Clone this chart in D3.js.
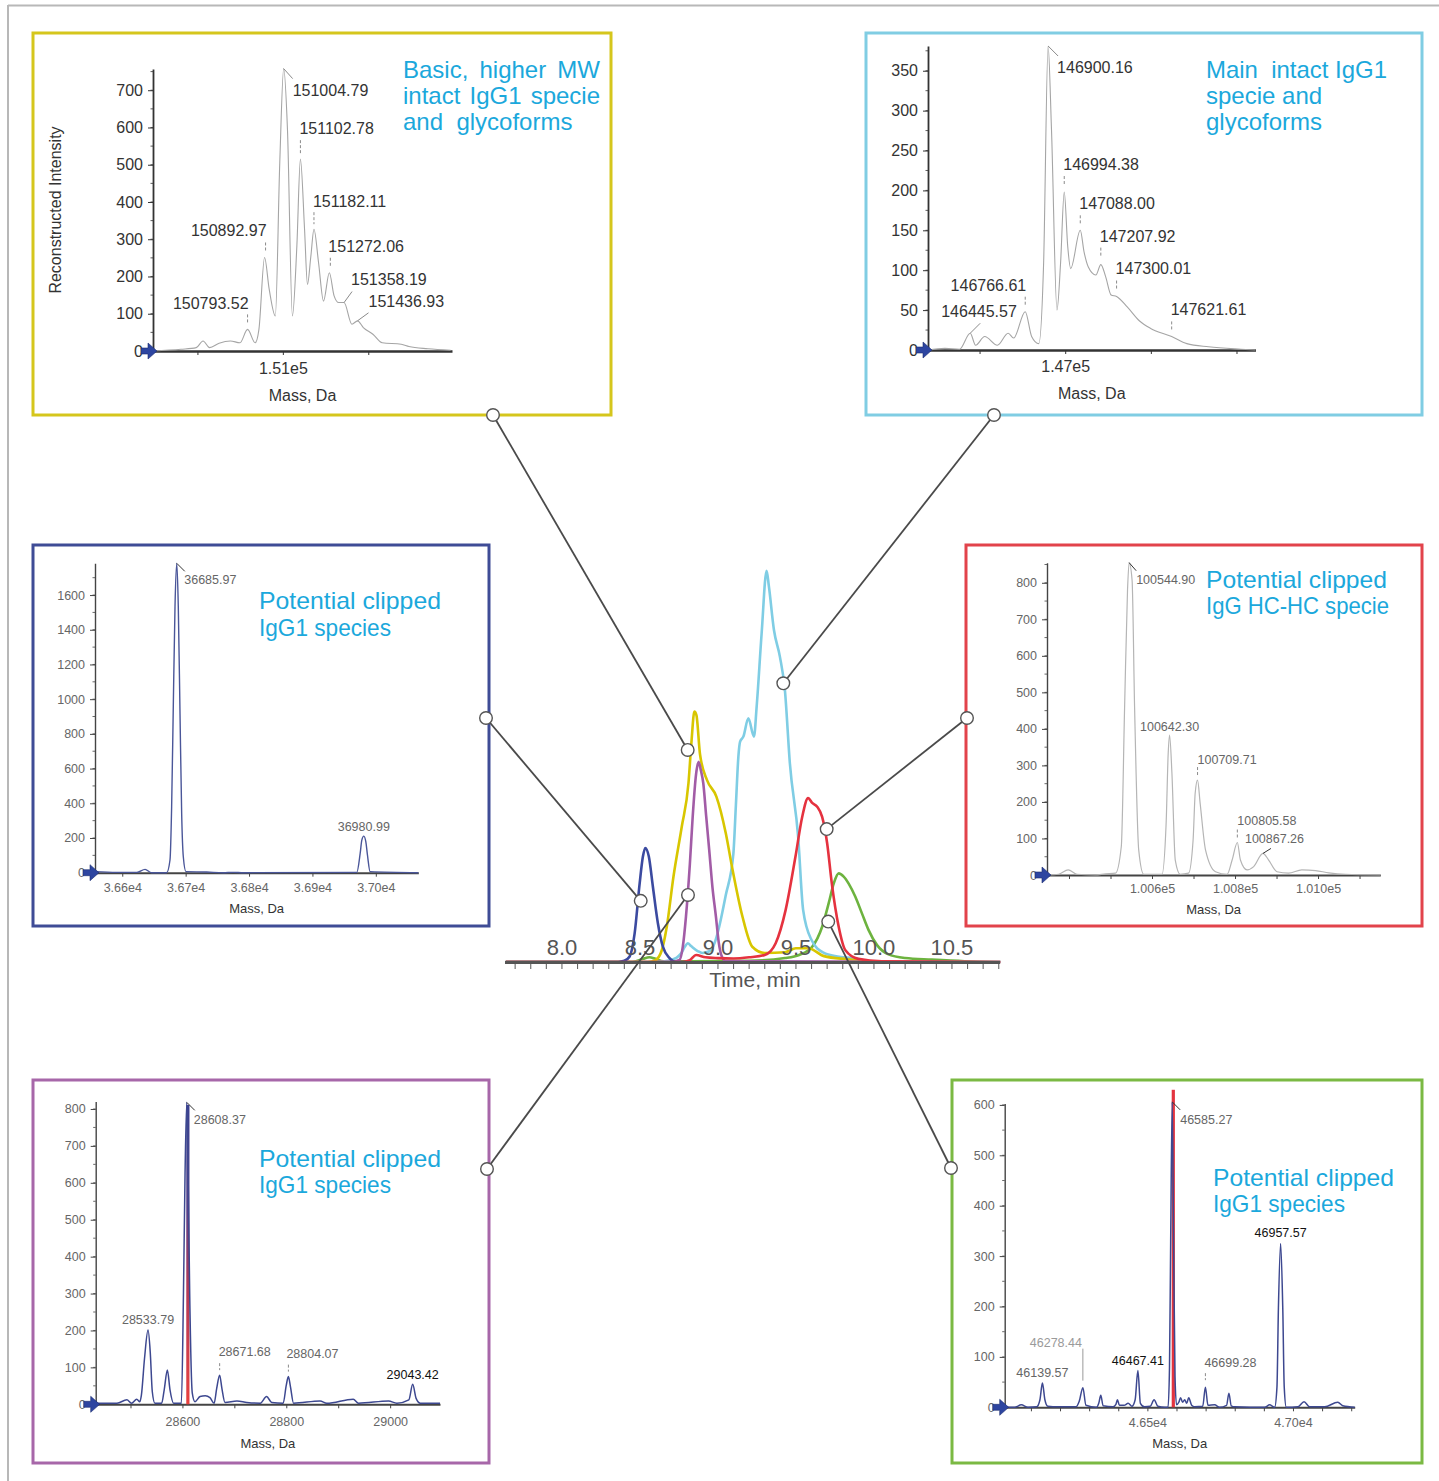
<!DOCTYPE html>
<html><head><meta charset="utf-8">
<script src="https://cdn.jsdelivr.net/npm/d3@7"></script>
<style>
html,body{margin:0;padding:0;background:#fff;}
svg{display:block;}
</style></head><body>
<svg id="c" width="1439" height="1481"></svg>
<script>
// ---------------- DATA ----------------
// Central chromatogram (time, min / relative intensity)
const timeTicks = [8.0, 8.5, 9.0, 9.5, 10.0, 10.5];
const blueTime = [7.64, 8.36, 8.40, 8.434, 8.466, 8.498, 8.519, 8.534, 8.557, 8.583, 8.615, 8.647, 8.69, 8.73, 8.80];
const blueInt  = [0, 0, 0.3, 1.4, 7.3, 20, 26.9, 29.1, 26.9, 19.2, 9.9, 3.9, 1.0, 0, 0];
const yellowTime = [7.64, 8.55, 8.60, 8.64, 8.672, 8.715, 8.768, 8.811, 8.83, 8.849, 8.862, 8.885, 8.93, 8.99, 9.05, 9.09, 9.157, 9.22, 9.30, 9.43, 9.50, 9.58, 9.68, 9.83, 9.95, 10.1];
const yellowInt  = [0, 0, 0.5, 3, 9, 21.8, 34.5, 45.6, 56, 63.9, 63, 53, 46.4, 42.2, 32.9, 24.3, 11.6, 3.9, 2.3, 2.5, 3.5, 3.5, 1.5, 0.7, 0.2, 0];
const purpleTime = [7.64, 8.70, 8.753, 8.775, 8.795, 8.82, 8.838, 8.86, 8.876, 8.89, 8.906, 8.925, 8.944, 8.965, 8.987, 9.005, 9.025, 9.05, 10.81];
const purpleInt  = [0, 0, 0.5, 4, 11.6, 25, 37, 48, 51.1, 49, 45.6, 37, 28.6, 19, 11.6, 5, 1.4, 0.2, 0];
const cyanTime = [7.64, 8.60, 8.70, 8.76, 8.79, 8.806, 8.83, 8.87, 8.90, 8.95, 8.98, 9.008, 9.05, 9.099, 9.115, 9.131, 9.142, 9.163, 9.195, 9.231, 9.248, 9.28, 9.312, 9.326, 9.359, 9.397, 9.429, 9.461, 9.514, 9.546, 9.60, 9.676, 9.766, 9.866, 9.956, 10.05, 10.81];
const cyanInt  = [0, 0, 0.5, 2, 4, 4.8, 4, 2.8, 2.3, 2.8, 5, 9, 17, 27.7, 40, 52.4, 56.2, 57.5, 62.2, 57.5, 65.1, 83.8, 99.8, 96, 84.7, 77.9, 69.4, 50.7, 32, 13.3, 5.6, 2.4, 1.4, 1.0, 0.3, 0, 0];
const redTime = [7.64, 8.77, 8.82, 8.86, 8.92, 9.0, 9.1, 9.2, 9.30, 9.37, 9.434, 9.497, 9.54, 9.578, 9.604, 9.636, 9.668, 9.70, 9.73, 9.774, 9.817, 9.9, 10.05, 10.81];
const redInt  = [0, 0, 0.5, 1.8, 1.2, 1.0, 0.9, 1.2, 1.8, 4.8, 13.3, 26.9, 37, 41.8, 40.6, 39.6, 37, 30.3, 20, 9, 3, 0.8, 0.2, 0];
const greenTime = [7.64, 8.45, 8.52, 8.56, 8.60, 8.65, 9.2, 9.43, 9.52, 9.604, 9.668, 9.71, 9.742, 9.774, 9.806, 9.838, 9.88, 9.923, 9.965, 10.02, 10.09, 10.2, 10.37, 10.58, 10.81];
const greenInt  = [0, 0, 0.8, 1.2, 0.8, 0.2, 0.3, 1.0, 1.8, 3.9, 9, 15, 20, 22.6, 21.8, 20, 16.7, 12.4, 8.2, 4.3, 2, 1, 0.6, 0.2, 0];
// connector anchors on the chromatogram (panel 1..6)
const anchorTime = [8.806, 9.419, 8.505, 9.697, 8.808, 9.707];
const anchorInt  = [54.1, 71.1, 15.6, 33.9, 17.1, 10.3];

// Panel 1 : basic, higher MW intact IgG1
const p1Mass = [150240, 150404, 150493, 150533, 150571, 150627, 150693, 150749, 150793.52, 150838, 150860, 150892.97, 150920, 150956, 150982, 151004.79, 151027, 151056, 151082, 151102.78, 151127, 151144, 151164, 151182.11, 151209, 151238, 151272.06, 151300, 151327, 151358.19, 151404, 151436.93, 151471, 151527, 151582, 151693, 151738, 151849, 151982];
const p1Int  = [0, 4.5, 9, 27, 9, 21, 27, 22, 58, 22, 58, 251, 166, 94, 506, 758, 595, 94, 282, 515, 327, 179, 255, 327, 237, 134, 210, 148, 130, 130, 72, 81, 63, 45, 22, 18, 12, 6, 2];
const p1YTicks = [0, 100, 200, 300, 400, 500, 600, 700];
const p1XTicks = [150500, 151000, 151500];
const p1XTickLabels = ['', '1.51e5', ''];
const p1LabelText = ['151004.79', '151102.78', '151182.11', '151272.06', '151358.19', '151436.93', '150892.97', '150793.52'];
const p1LabelMass = [151004.79, 151102.78, 151182.11, 151272.06, 151358.19, 151436.93, 150892.97, 150793.52];
const p1LabelInt  = [758, 515, 327, 210, 130, 81, 251, 58];
const p1Note = ['Basic, higher MW', 'intact IgG1 specie', 'and  glycoforms'];

// Panel 2 : main intact IgG1
const p2Mass = [146199, 146298, 146383, 146445.57, 146477, 146530, 146604, 146667, 146699, 146766.61, 146804, 146846, 146874, 146900.16, 146920, 146952, 146973, 146994.38, 147015, 147032, 147088.00, 147110, 147135, 147179, 147207.92, 147236, 147268, 147300.01, 147362, 147436, 147499, 147621.61, 147710, 147837, 148026, 148111];
const p2Int  = [0, 2, 1, 21, 6, 17, 6, 21, 15, 48, 17, 8, 109, 381, 276, 50, 109, 198, 129, 102, 150, 123, 104, 94, 107, 92, 69, 67, 54, 36, 27, 17, 8, 4, 1, 0];
const p2YTicks = [0, 50, 100, 150, 200, 250, 300, 350];
const p2XTicks = [146500, 147000, 147500, 148000];
const p2XTickLabels = ['', '1.47e5', '', ''];
const p2LabelText = ['146900.16', '146994.38', '147088.00', '147207.92', '147300.01', '146766.61', '146445.57', '147621.61'];
const p2LabelMass = [146900.16, 146994.38, 147088.00, 147207.92, 147300.01, 146766.61, 146445.57, 147621.61];
const p2LabelInt  = [381, 198, 150, 107, 67, 48, 21, 17];
const p2Note = ['Main  intact IgG1', 'specie and', 'glycoforms'];

// Panel 3 : potential clipped IgG1 species (blue)
const p3Mass = [36557, 36591, 36623, 36636, 36646, 36670, 36675.3, 36677.9, 36680.5, 36683.2, 36685.97, 36688.4, 36691.1, 36693.7, 36696.3, 36700.5, 36733, 36759, 36775, 36791, 36970, 36975.3, 36977.9, 36980.99, 36984.2, 36986.8, 36991, 37067];
const p3Int  = [6, 2, 2, 19, 0, 0, 73, 380, 957, 1533, 1783, 1533, 918, 342, 92, 6, 4, 0, 2, 0, 2, 111, 188, 211, 179, 102, 6, 0];
const p3YTicks = [0, 200, 400, 600, 800, 1000, 1200, 1400, 1600];
const p3XTicks = [36600, 36700, 36800, 36900, 37000];
const p3XTickLabels = ['3.66e4', '3.67e4', '3.68e4', '3.69e4', '3.70e4'];
const p3LabelText = ['36685.97', '36980.99'];
const p3LabelMass = [36685.97, 36980.99];
const p3LabelInt  = [1783, 211];
const p3Note = ['Potential clipped', 'IgG1 species'];

// Panel 4 : potential clipped IgG HC-HC specie (red)
const p4Mass = [100347, 100375, 100398, 100419, 100463, 100488, 100512, 100526, 100534, 100541, 100544.90, 100552, 100558, 100568, 100580, 100624, 100634, 100639, 100642.30, 100648, 100656, 100668, 100688, 100699, 100704, 100709.71, 100716, 100729, 100753, 100781, 100793, 100805.58, 100813, 100829, 100845, 100867.26, 100881, 100901, 100929, 100961, 100994, 101026, 101066, 101150];
const p4Int  = [0, 2, 14, 2, 0, 3, 5, 78, 461, 780, 855, 807, 461, 68, 2, 2, 141, 333, 383, 278, 41, 2, 5, 96, 224, 260, 196, 68, 9, 2, 41, 89, 41, 14, 23, 59, 41, 9, 5, 14, 12, 6, 2, 0];
const p4YTicks = [0, 100, 200, 300, 400, 500, 600, 700, 800];
const p4XTicks = [100400, 100500, 100600, 100700, 100800, 100900, 101000, 101100];
const p4XTickLabels = ['', '', '1.006e5', '', '1.008e5', '', '1.010e5', ''];
const p4LabelText = ['100544.90', '100642.30', '100709.71', '100805.58', '100867.26'];
const p4LabelMass = [100544.90, 100642.30, 100709.71, 100805.58, 100867.26];
const p4LabelInt  = [855, 383, 260, 89, 59];
const p4Note = ['Potential clipped', 'IgG HC-HC specie'];

// Panel 5 : potential clipped IgG1 species (purple)
const p5Mass = [28433, 28474, 28493, 28502, 28512, 28518, 28521, 28527, 28533.79, 28538, 28542, 28547, 28560, 28565, 28571, 28576, 28583, 28598, 28602, 28605, 28608.37, 28611, 28614, 28619, 28624, 28634, 28644, 28653, 28661, 28666, 28671.68, 28676, 28682, 28705, 28724, 28750, 28762, 28772, 28794, 28800, 28804.07, 28808, 28814, 28865, 28878, 28929, 28939, 28997, 29013, 29036, 29043.42, 29050, 29058, 29096];
const p5Int  = [3, 3, 12, 3, 14, 7, 25, 124, 201, 142, 34, 3, 3, 40, 93, 40, 3, 3, 300, 620, 818, 620, 300, 30, 7, 21, 23, 18, 3, 43, 79, 43, 5, 9, 5, 3, 21, 5, 3, 52, 75, 48, 3, 9, 3, 14, 3, 9, 3, 12, 54, 16, 3, 3];
const p5YTicks = [0, 100, 200, 300, 400, 500, 600, 700, 800];
const p5XTicks = [28500, 28600, 28700, 28800, 28900, 29000];
const p5XTickLabels = ['', '28600', '', '28800', '', '29000'];
const p5LabelText = ['28608.37', '28533.79', '28671.68', '28804.07', '29043.42'];
const p5LabelMass = [28608.37, 28533.79, 28671.68, 28804.07, 29043.42];
const p5LabelInt  = [818, 201, 79, 75, 54];
const p5BarMass = 28608.37, p5BarInt = 811;
const p5Note = ['Potential clipped', 'IgG1 species'];

// Panel 6 : potential clipped IgG1 species (green)
const p6Mass = [46010, 46044, 46067, 46090, 46120, 46131, 46139.57, 46148, 46158, 46193, 46255, 46266, 46278.44, 46289, 46325, 46333, 46340, 46348, 46382, 46392, 46397, 46404, 46420, 46434, 46447, 46458, 46467.41, 46476, 46490, 46510, 46523, 46536, 46560, 46571, 46576, 46580, 46585.27, 46590, 46595, 46600, 46608, 46614, 46621, 46628, 46635, 46642, 46652, 46662, 46690, 46699.28, 46708, 46731, 46748, 46772, 46780, 46788, 46800, 46903, 46920, 46937, 46945, 46950, 46957.57, 46965, 46970, 46977, 47017, 47038, 47057, 47109, 47154, 47171, 47212];
const p6Int  = [0, 0, 5, 0, 1, 15, 48, 15, 2, 1, 1, 12, 39, 4, 0, 8, 24, 3, 1, 6, 15, 4, 4, 8, 2, 15, 73, 8, 1, 2, 15, 2, 0, 0, 80, 329, 606, 329, 60, 5, 10, 19, 10, 15, 8, 19, 4, 1, 2, 40, 4, 5, 0, 4, 28, 3, 1, 0, 5, 0, 40, 196, 325, 196, 40, 0, 1, 11, 1, 1, 10, 3, 0];
const p6YTicks = [0, 100, 200, 300, 400, 500, 600];
const p6XTicks = [46100, 46200, 46300, 46400, 46500, 46600, 46700, 46800, 46900, 47000, 47100, 47200];
const p6XTickLabels = ['', '', '', '', '4.65e4', '', '', '', '', '4.70e4', '', ''];
const p6LabelText = ['46585.27', '46957.57', '46139.57', '46278.44', '46467.41', '46699.28'];
const p6LabelMass = [46585.27, 46957.57, 46139.57, 46278.44, 46467.41, 46699.28];
const p6LabelInt  = [606, 325, 48, 39, 73, 40];
const p6BarMass = 46585.27, p6BarInt = 630;
const p6Note = ['Potential clipped', 'IgG1 species'];

// ---------------- LAYOUT (positions / styles) ----------------
const FONT = '"Liberation Sans", Arial, Helvetica, sans-serif';
const NOTE = '#1ba8dc';
const svg = d3.select('#c');

// label layout: [dx, dy, anchor, lx1, ly1, lx2, ly2, leaderStyle, color]
const p1LabelPos = [[9,27,'start',0,0,9,10,'s'],[-1,-25,'start',0,-19,0,-6,'d'],[-1,-22,'start',0,-17,0,-5,'d'],[-1,-21,'start',1,-15,1,-5,'d'],[7,-18,'start',0,0,8,-11,'s'],[11,-14,'start',0,0,11,-8,'s'],[2,-21,'end',1,-15,1,-5,'d'],[1,-20.5,'end',0,-15,0,-5,'d']];
const p2LabelPos = [[9,27,'start',0,0,10,10,'s'],[-1,-22,'start',0,-16,0,-6,'d'],[-1,-21,'start',0,-15,0,-7,'d'],[-1,-23,'start',0,-17,0,-7,'d'],[-1,-23,'start',0,-16,0,-8,'d'],[1,-21,'end',0,-15,0,-6,'d'],[-29,-16,'start',0,0,10,-10,'s'],[-1,-21,'start',0,-15,0,-7,'d']];
const p3LabelPos = [[7.5,21,'start',0,0,8,8,'s'],[0,-5,'middle',0,0,0,0,'']];
const p4LabelPos = [[7,21,'start',0,0,7,8,'s'],[0,-4.5,'middle',0,0,0,0,''],[0,-16,'start',0,-13,0,-5,'d'],[0,-17,'start',0,-13,0,-5,'d'],[-18,-10,'start',0,0,8,-5,'s']];
const p5LabelPos = [[7,22,'start',0,0,8,8,'s'],[0,-6,'middle',0,0,0,0,''],[-1,-19,'start',0,-12,0,-5,'d'],[-2,-19,'start',0,-12,0,-5,'d'],[0,-5.5,'middle',0,0,0,0,'','#111']];
const p6LabelPos = [[8,22,'start',0,0,8,8,'s'],[0,-7,'middle',0,0,0,0,'','#111'],[0,-6,'middle',0,0,0,0,''],[-27,-41,'middle',0,-7,0,-39,'s','#9a9a9a'],[0,-6,'middle',0,0,0,0,'','#111'],[-1,-20,'start',0,-14,0,-7,'d']];

const panels = [
 {frame:[33,33,611,415], color:'#d5c61c', xr:[153,452], xd:[150240,151990], yr:[351,69], yd:[0,757], fs:16, txt:'#333', axis:'#333', axisW:1.8, xpad:7.6, massY:401, massFs:16, lead:'#8a8a8a', trace:'#a5a5a5', traceW:1.1, minor:50,
  mass:p1Mass, int:p1Int, yt:p1YTicks, xt:p1XTicks, xtl:p1XTickLabels, lt:p1LabelText, lm:p1LabelMass, li:p1LabelInt, lp:p1LabelPos, note:p1Note, noteX:403, noteY:[78,104,130], justify:[197,197,0], fit:[0,0,0], anchor:[493,415]},
 {frame:[866,33,1422,415], color:'#80cde3', xr:[928,1255.5], xd:[146199,148111], yr:[350,46], yd:[0,381], fs:16, txt:'#333', axis:'#333', axisW:1.8, xpad:7, massY:399, massFs:16, lead:'#8a8a8a', trace:'#a5a5a5', traceW:1.1, minor:25,
  mass:p2Mass, int:p2Int, yt:p2YTicks, xt:p2XTicks, xtl:p2XTickLabels, lt:p2LabelText, lm:p2LabelMass, li:p2LabelInt, lp:p2LabelPos, note:p2Note, noteX:1206, noteY:[78,104,130], justify:[0,0,0], fit:[181,0,0], anchor:[994,415]},
 {frame:[33,545,489,926], color:'#3f4c96', xr:[95,418.3], xd:[36557,37067], yr:[872.7,563.3], yd:[0,1783], fs:12.5, txt:'#666', axis:'#444', axisW:1.4, xpad:6, massY:912.5, massFs:13, lead:'#333', trace:'#4a5699', traceW:1.4, minor:100,
  mass:p3Mass, int:p3Int, yt:p3YTicks, xt:p3XTicks, xtl:p3XTickLabels, lt:p3LabelText, lm:p3LabelMass, li:p3LabelInt, lp:p3LabelPos, note:p3Note, noteX:259, noteY:[609,636], justify:[0,0], fit:[182,132], anchor:[486,718]},
 {frame:[966,545,1422,926], color:'#e2434b', xr:[1047,1380.3], xd:[100347,101150], yr:[875,562.7], yd:[0,855], fs:12.5, txt:'#666', axis:'#444', axisW:1.4, xpad:5.6, massY:913.5, massFs:13, lead:'#333', trace:'#b5b5b5', traceW:1.2, minor:50,
  mass:p4Mass, int:p4Int, yt:p4YTicks, xt:p4XTicks, xtl:p4XTickLabels, lt:p4LabelText, lm:p4LabelMass, li:p4LabelInt, lp:p4LabelPos, note:p4Note, noteX:1206, noteY:[588,614], justify:[0,0], fit:[181,183], anchor:[967,718]},
 {frame:[33,1080,489,1463], color:'#a767a9', xr:[95.7,440], xd:[28433,29096], yr:[1404.3,1101.6], yd:[0,820], fs:12.5, txt:'#666', axis:'#444', axisW:1.4, xpad:8.8, massY:1447.5, massFs:13, lead:'#333', trace:'#3d4890', traceW:1.5, minor:50,
  mass:p5Mass, int:p5Int, yt:p5YTicks, xt:p5XTicks, xtl:p5XTickLabels, lt:p5LabelText, lm:p5LabelMass, li:p5LabelInt, lp:p5LabelPos, note:p5Note, noteX:259, noteY:[1167,1193], justify:[0,0], fit:[182,132], anchor:[487,1169],
  bar:[p5BarMass, p5BarInt], barFill:'url(#rb5)'},
 {frame:[952,1080,1422,1463], color:'#7bb943', xr:[1004.7,1354.7], xd:[46010,47212], yr:[1407.3,1103.4], yd:[0,603], fs:12.5, txt:'#666', axis:'#444', axisW:1.4, xpad:7, massY:1447.5, massFs:13, lead:'#333', trace:'#3d4890', traceW:1.5, minor:50,
  mass:p6Mass, int:p6Int, yt:p6YTicks, xt:p6XTicks, xtl:p6XTickLabels, lt:p6LabelText, lm:p6LabelMass, li:p6LabelInt, lp:p6LabelPos, note:p6Note, noteX:1213, noteY:[1186,1212], justify:[0,0], fit:[181,132], anchor:[951,1168],
  bar:[p6BarMass, p6BarInt], barFill:'#e3343f'}
];

// gradient for purple panel bar
const defs = svg.append('defs');
const gr = defs.append('linearGradient').attr('id','rb5').attr('x1',0).attr('y1',0).attr('x2',0).attr('y2',1);
gr.append('stop').attr('offset','0%').attr('stop-color','#3a4090');
gr.append('stop').attr('offset','35%').attr('stop-color','#5a3f88');
gr.append('stop').attr('offset','60%').attr('stop-color','#b23a5a');
gr.append('stop').attr('offset','100%').attr('stop-color','#e8403e');

// outer frame
svg.append('line').attr('x1',8).attr('y1',5.5).attr('x2',1439).attr('y2',5.5).attr('stroke','#b8b8b8').attr('stroke-width',2);
svg.append('line').attr('x1',8).attr('y1',5).attr('x2',8).attr('y2',1481).attr('stroke','#b8b8b8').attr('stroke-width',2);

function drawPanel(c) {
  const g = svg.append('g');
  const [x0,y0,x1,y1] = c.frame;
  g.append('rect').attr('x',x0).attr('y',y0).attr('width',x1-x0).attr('height',y1-y0)
    .attr('fill','#fff').attr('stroke',c.color).attr('stroke-width',3);
  const x = d3.scaleLinear().domain(c.xd).range(c.xr);
  const y = d3.scaleLinear().domain(c.yd).range(c.yr);

  // minor y ticks
  const minors = d3.range(0, c.yd[1], c.minor);
  g.selectAll(null).data(minors).enter().append('line')
    .attr('x1', c.xr[0]-2.5).attr('x2', c.xr[0]).attr('y1', d=>y(d)).attr('y2', d=>y(d))
    .attr('stroke', c.axis).attr('stroke-width', 0.8);

  // y axis
  const gy = g.append('g').attr('transform',`translate(${c.xr[0]},0)`)
    .call(d3.axisLeft(y).tickValues(c.yt).tickSize(5).tickSizeOuter(0).tickPadding(5).tickFormat(d3.format('d')));
  gy.select('.domain').attr('stroke',c.axis).attr('stroke-width',c.axisW);
  gy.selectAll('.tick line').attr('stroke',c.axis).attr('stroke-width',1);
  gy.selectAll('.tick text').attr('font-size',c.fs).attr('font-family',FONT).attr('fill',c.txt);

  // x axis
  const gx = g.append('g').attr('transform',`translate(0,${c.yr[0]})`)
    .call(d3.axisBottom(x).tickValues(c.xt).tickSize(4).tickSizeOuter(0).tickPadding(c.xpad).tickFormat((d,i)=>c.xtl[i]));
  gx.select('.domain').attr('stroke',c.axis).attr('stroke-width',c.axisW + 0.6);
  gx.selectAll('.tick line').attr('stroke',c.axis).attr('stroke-width',1);
  gx.selectAll('.tick text').attr('font-size',c.fs).attr('font-family',FONT).attr('fill',c.txt);

  // red stick bar
  if (c.bar) {
    g.append('rect').attr('x', x(c.bar[0]) - 0.5).attr('width', 3.2)
      .attr('y', y(c.bar[1])).attr('height', y(0) - y(c.bar[1]))
      .attr('fill', c.barFill);
  }

  // spectrum trace
  const pts = c.mass.map((m,i)=>[m, c.int[i]]);
  g.append('path').datum(pts)
    .attr('d', d3.line().x(d=>x(d[0])).y(d=>y(d[1])).curve(d3.curveMonotoneX))
    .attr('fill','none').attr('stroke',c.trace).attr('stroke-width',c.traceW).attr('stroke-linejoin','round');

  // peak labels
  c.lt.forEach((t,i)=>{
    const px = x(c.lm[i]), py = y(c.li[i]);
    const p = c.lp[i];
    if (p[7]) {
      g.append('line').attr('x1',px+p[3]).attr('y1',py+p[4]).attr('x2',px+p[5]).attr('y2',py+p[6])
        .attr('stroke', p[7]==='d' ? '#8a8a8a' : (p[8] || c.lead)).attr('stroke-width',1)
        .attr('stroke-dasharray', p[7]==='d' ? '3,2' : null);
    }
    g.append('text').attr('x',px+p[0]).attr('y',py+p[1]).attr('text-anchor',p[2])
      .attr('font-family',FONT).attr('font-size',c.fs).attr('fill',p[8] || c.txt).text(t);
  });

  // origin arrow marker
  const ox = c.xr[0]+1, oy = c.yr[0];
  g.append('path').attr('d',`M${ox-13},${oy-3} L${ox-6},${oy-3} L${ox-6},${oy-8} L${ox+3},${oy} L${ox-6},${oy+8} L${ox-6},${oy+3} L${ox-13},${oy+3} Z`)
    .attr('fill','#2d45a0').attr('stroke','#1d2d70').attr('stroke-width',0.6);

  // axis title
  g.append('text').attr('x',(c.xr[0]+c.xr[1])/2).attr('y',c.massY).attr('text-anchor','middle')
    .attr('font-family',FONT).attr('font-size',c.massFs).attr('fill','#333').text('Mass, Da');

  // annotation text
  c.note.forEach((line,i)=>{
    const W = c.justify[i];
    if (W) {
      const words = line.split(/\s+/);
      const tmp = words.map(w=>g.append('text').attr('font-family',FONT).attr('font-size',24).attr('fill',NOTE).text(w));
      const widths = tmp.map(s=>s.node().getComputedTextLength());
      const gap = (W - d3.sum(widths)) / (words.length-1);
      let cx = c.noteX;
      tmp.forEach((s,k)=>{ s.attr('x',cx).attr('y',c.noteY[i]); cx += widths[k] + gap; });
    } else {
      const t = g.append('text').attr('x',c.noteX).attr('y',c.noteY[i]).attr('font-family',FONT).attr('font-size',24)
        .attr('fill',NOTE).attr('xml:space','preserve').style('white-space','pre').text(line);
      if (c.fit[i]) t.attr('textLength', c.fit[i]).attr('lengthAdjust','spacingAndGlyphs');
    }
  });
  return g;
}
panels.forEach(drawPanel);

// y title in panel 1
svg.append('text').attr('transform','translate(60.5,210) rotate(-90)').attr('text-anchor','middle')
  .attr('font-family',FONT).attr('font-size',16).attr('fill','#333').text('Reconstructed Intensity');

// ---------------- central chromatogram ----------------
const tx = d3.scaleLinear().domain([7.635, 10.808]).range([505, 1000]);
const ty = d3.scaleLinear().domain([0, 100]).range([962, 570]);
const cg = svg.append('g');
const series = [
  [greenTime, greenInt, '#6db33f'],
  [cyanTime, cyanInt, '#7fcde4'],
  [yellowTime, yellowInt, '#d8c600'],
  [purpleTime, purpleInt, '#a25ca6'],
  [blueTime, blueInt, '#3b4aa0'],
  [redTime, redInt, '#e5323f']
];
const cline = d3.line().x(d=>tx(d[0])).y(d=>ty(d[1])).curve(d3.curveMonotoneX);
series.forEach(s=>{
  cg.append('path').datum(s[0].map((t,i)=>[t, s[1][i]])).attr('d', cline)
    .attr('fill','none').attr('stroke', s[2]).attr('stroke-width', 2.6).attr('stroke-linejoin','round');
});
// axis
cg.append('line').attr('x1',505).attr('x2',1000).attr('y1',ty(0)+0.5).attr('y2',ty(0)+0.5).attr('stroke','#555').attr('stroke-width',3.2);
const minorT = d3.range(77, 109).map(v=>v/10);
cg.selectAll(null).data(minorT).enter().append('line')
  .attr('x1',d=>tx(d)).attr('x2',d=>tx(d)).attr('y1',ty(0)+2).attr('y2',ty(0)+7)
  .attr('stroke','#666').attr('stroke-width',1.1);
cg.selectAll(null).data(timeTicks).enter().append('text')
  .attr('x',d=>tx(d)).attr('y',955).attr('text-anchor','middle')
  .attr('font-family',FONT).attr('font-size',22).attr('fill','#555').text(d=>d.toFixed(1));
cg.append('text').attr('x',755).attr('y',987).attr('text-anchor','middle')
  .attr('font-family',FONT).attr('font-size',21).attr('fill','#555').text('Time, min');

// connectors
const conn = svg.append('g');
panels.forEach((c,i)=>{
  conn.append('line').attr('x1',c.anchor[0]).attr('y1',c.anchor[1])
    .attr('x2',tx(anchorTime[i])).attr('y2',ty(anchorInt[i]))
    .attr('stroke','#4a4a4a').attr('stroke-width',1.8);
});
panels.forEach((c,i)=>{
  [[c.anchor[0],c.anchor[1]],[tx(anchorTime[i]),ty(anchorInt[i])]].forEach(p=>{
    conn.append('circle').attr('cx',p[0]).attr('cy',p[1]).attr('r',6.3)
      .attr('fill','#fff').attr('stroke','#555').attr('stroke-width',1.4);
  });
});
</script>
</body></html>
